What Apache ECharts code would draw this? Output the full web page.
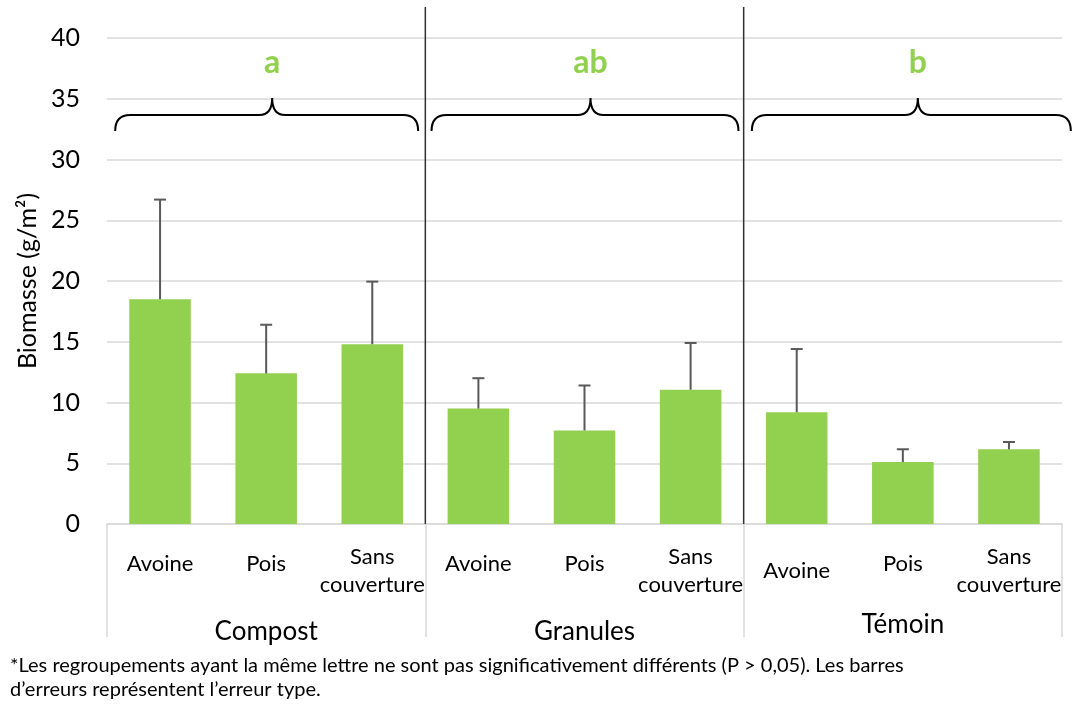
<!DOCTYPE html>
<html>
<head>
<meta charset="utf-8">
<script src="https://cdn.jsdelivr.net/npm/echarts@6/dist/echarts.min.js"></script>
<style>
  html, body { margin: 0; padding: 0; background: #fff; }
  #chart { width: 1072px; height: 707px; }
</style>
</head>
<body>
<div id="chart"></div>
<script>
// Cover crop under each fertilisation treatment
const categories = [
  'Avoine', 'Pois', 'Sans\ncouverture',
  'Avoine', 'Pois', 'Sans\ncouverture',
  'Avoine', 'Pois', 'Sans\ncouverture'
];
const groups = ['Compost', 'Granules', 'Témoin'];
// Mean biomass (g/m²) and standard error
const means = [18.5, 12.4, 14.8, 9.5, 7.7, 11.05, 9.2, 5.1, 6.15];
const errors = [8.2, 4.0, 5.15, 2.5, 3.7, 3.85, 5.2, 1.05, 0.6];
// Statistical grouping letters per treatment
const letters = ['a', 'ab', 'b'];
const footnote = '*Les regroupements ayant la même lettre ne sont pas significativement différents (P > 0,05). Les barres\nd’erreurs représentent l’erreur type.';

const FONT = 'Lato, "Noto Sans", sans-serif';
const GREEN = '#92D050';
const GRID_GREY = '#D9D9D9';

// Brace geometry: [left offset, peak offset, right offset] from group centre (px)
const braceShape = [[-151, 6, 152], [-153, 6, 154], [-151, 15, 168]];

const chart = echarts.init(document.getElementById('chart'), null, { renderer: 'canvas' });

function catLabel(value, index) {
  if (value.indexOf('\n') >= 0) {
    return value;
  }
  return index === 6 ? '{t|' + value + '}' : '{s|' + value + '}';
}

const option = {
  animation: false,
  backgroundColor: '#fff',
  textStyle: { fontFamily: FONT },
  grid: { left: 107, right: 10, top: 38, bottom: 183, containLabel: false },
  xAxis: [
    {
      type: 'category',
      data: categories,
      position: 'bottom',
      axisLine: { show: true, lineStyle: { color: GRID_GREY, width: 1.5 } },
      axisTick: { show: false },
      axisLabel: {
        interval: 0,
        margin: 19,
        color: '#000',
        fontFamily: FONT,
        fontSize: 22,
        lineHeight: 28,
        formatter: catLabel,
        rich: {
          s: { fontFamily: FONT, fontSize: 22, color: '#000', padding: [14, 0, 0, 0] },
          t: { fontFamily: FONT, fontSize: 22, color: '#000', padding: [28, 0, 0, 0] }
        }
      }
    },
    {
      type: 'category',
      data: groups,
      position: 'bottom',
      axisLine: { show: false },
      axisTick: {
        show: true,
        interval: 0,
        length: 113,
        lineStyle: { color: GRID_GREY, width: 1.5 }
      },
      axisLabel: {
        interval: 0,
        margin: 86,
        color: '#000',
        fontFamily: FONT,
        fontSize: 26,
        formatter: function (v, i) { return i === 2 ? '{t|' + v + '}' : '{n|' + v + '}'; },
        rich: {
          n: { fontFamily: FONT, fontSize: 26, color: '#000', padding: [9, 0, 0, 0] },
          t: { fontFamily: FONT, fontSize: 26, color: '#000', padding: [2, 0, 0, 0] }
        }
      },
      splitLine: { show: false }
    }
  ],
  yAxis: {
    type: 'value',
    min: 0,
    max: 40,
    interval: 5,
    axisLine: { show: false },
    axisTick: { show: false },
    axisLabel: { color: '#000', fontFamily: FONT, fontSize: 25, margin: 27 },
    splitLine: { lineStyle: { color: GRID_GREY, width: 1.5 } },
    name: 'Biomasse (g/m²)',
    nameLocation: 'middle',
    nameGap: 66,
    nameTextStyle: { color: '#000', fontFamily: FONT, fontSize: 25 }
  },
  series: [
    {
      name: 'Biomasse',
      type: 'bar',
      xAxisIndex: 0,
      data: means,
      barWidth: '58%',
      itemStyle: { color: GREEN },
      z: 2
    },
    {
      // standard error whiskers
      type: 'custom',
      xAxisIndex: 0,
      data: means.map(function (m, i) { return [i, m, errors[i]]; }),
      z: 3,
      clip: false,
      renderItem: function (params, api) {
        const i = api.value(0);
        const m = api.value(1);
        const e = api.value(2);
        const base = api.coord([i, m]);
        const top = api.coord([i, m + e]);
        const style = { stroke: '#595959', lineWidth: 2 };
        return {
          type: 'group',
          children: [
            { type: 'line', shape: { x1: base[0], y1: base[1], x2: top[0], y2: top[1] }, style: style },
            { type: 'line', shape: { x1: top[0] - 6, y1: top[1], x2: top[0] + 6, y2: top[1] }, style: style }
          ]
        };
      }
    },
    {
      // group separators running up through the plot
      type: 'custom',
      xAxisIndex: 1,
      data: [[0], [1]],
      z: 4,
      clip: false,
      silent: true,
      renderItem: function (params, api) {
        const g = api.value(0);
        const bottom = api.coord([g, 0]);
        const top = api.coord([g, 42.55]);
        const x = bottom[0] + api.size([1, 0])[0] / 2;
        return {
          type: 'line',
          shape: { x1: x, y1: bottom[1], x2: x, y2: top[1] },
          style: { stroke: '#303030', lineWidth: 1.5 }
        };
      }
    },
    {
      // curly braces and grouping letters
      type: 'custom',
      xAxisIndex: 1,
      data: letters.map(function (l, g) { return [g, l]; }),
      z: 5,
      clip: false,
      silent: true,
      renderItem: function (params, api) {
        const g = api.value(0);
        const c = api.coord([g, 33.66]);
        const s = braceShape[g];
        const L = c[0] + s[0], P = c[0] + s[1], R = c[0] + s[2];
        const M = c[1], B = M + 16, T = M - 17, r = 15, k = 13;
        const d = 'M' + L + ',' + B +
          ' Q' + L + ',' + M + ' ' + (L + r) + ',' + M +
          ' L' + (P - k) + ',' + M +
          ' Q' + P + ',' + M + ' ' + P + ',' + T +
          ' Q' + P + ',' + M + ' ' + (P + k) + ',' + M +
          ' L' + (R - r) + ',' + M +
          ' Q' + R + ',' + M + ' ' + R + ',' + B;
        return {
          type: 'group',
          children: [
            { type: 'path', shape: { pathData: d }, style: { stroke: '#000', fill: null, lineWidth: 2 } },
            {
              type: 'text',
              x: P, y: M - 52,
              style: {
                text: letters[g],
                fill: GREEN,
                font: 'bold 32px ' + FONT,
                textAlign: 'center',
                textVerticalAlign: 'middle'
              }
            }
          ]
        };
      }
    }
  ],
  graphic: [
    {
      type: 'text',
      left: 10,
      top: 654,
      style: { text: footnote, font: '20px ' + FONT, lineHeight: 24, fill: '#000' }
    }
  ]
};

chart.setOption(option);
</script>
</body>
</html>
